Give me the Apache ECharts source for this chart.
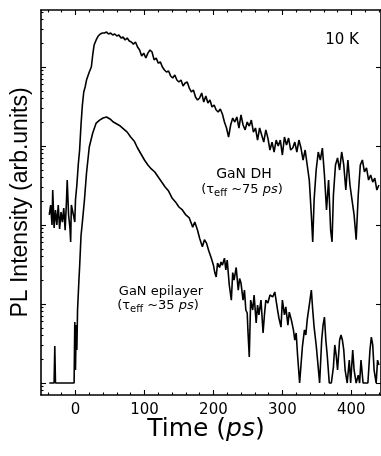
<!DOCTYPE html>
<html><head><meta charset="utf-8">
<script src="https://cdn.jsdelivr.net/npm/echarts@6/dist/echarts.min.js"></script>
<style>html,body{margin:0;padding:0;background:#fff}#c{width:381px;height:456px}</style>
</head><body><div id="c"></div>
<script>
// GaN DH (upper trace): time (ps) and PL intensity (arb. units)
const dhTime = [
  -38,-36,-34,-33,-31,-29,-27,-25,-23,-21,
  -19,-17,-15,-13,-12,-10,-8,-7,-6,-3,
  -1,0,2,4,6,8,10,12,14,16,
  18,20,23,25,27,30,33,36,39,42,
  45,48,51,54,57,60,63,66,69,72,
  75,78,81,84,87,90,93,96,99,102,
  105,108,111,114,117,120,123,126,129,132,
  135,138,141,144,147,150,153,156,159,162,
  165,168,171,174,177,180,183,186,189,192,
  195,198,201,204,207,210,213,216,219,222,
  225,228,231,234,237,240,243,246,249,252,
  255,258,261,264,267,270,273,276,279,282,
  285,288,291,294,297,300,303,306,309,312,
  315,318,321,324,327,330,333,336,339,342,
  344,346,349,352,355,358,361,364,367,370,
  372,374,377,380,383,386,389,392,395,398,
  401,404,407,410,413,416,419,422,425,428,
  431,434,437,440
];
const dhIntensity = [
  134,179,100,277,92,155,100,179,89,146,
  109,164,86,207,371,134,92,61,179,134,
  109,207,321,575,890,1845,3300,4830,5580,6840,
  7690,8650,10000,14200,19000,22000,24700,26200,26900,26900,
  27700,26200,26900,25400,26200,24700,25400,23300,24000,22000,
  23300,21300,20700,19500,20700,17900,16400,13800,15000,13000,
  15000,16400,15500,12300,13000,11200,11600,10000,9160,8650,
  8900,7690,7260,7920,6840,6460,6840,5750,6270,6460,
  5420,4830,5120,4170,3820,4050,4690,3610,4300,3500,
  3820,3120,3300,2860,2690,2940,2540,2010,1690,1300,
  1845,2260,2010,2330,1690,2470,1845,1600,2010,1790,
  2130,1500,1690,1190,1690,1380,1120,1600,1260,890,
  1120,840,1190,1000,1190,769,1300,1030,1260,890,
  943,1120,840,1190,943,665,890,575,371,134,
  61,207,497,840,665,943,430,155,371,86,
  61,240,575,705,497,840,575,277,665,321,
  207,134,65,240,575,665,469,527,371,430,
  350,393,277,321
];
// GaN epilayer (lower trace)
const epiTime = [
  -38,-31,-30,-29,-2,-1,0,1,2,3,
  5,6,8,10,13,16,20,25,30,35,
  40,45,50,55,60,65,70,75,80,85,
  90,95,100,105,110,115,120,125,130,135,
  140,145,150,155,160,165,170,173,177,180,
  184,187,190,193,197,200,202,204,206,209,
  211,213,216,218,220,223,226,228,230,233,
  236,238,240,243,245,247,249,250,252,254,
  257,259,262,264,266,269,272,274,276,279,
  282,284,286,289,291,293,295,298,300,303,
  305,308,310,313,316,318,320,322,325,327,
  329,332,334,336,339,342,344,346,349,351,
  354,357,359,361,363,365,368,371,374,376,
  378,380,383,385,387,389,391,394,397,399,
  402,404,407,410,412,414,417,421,424,427,
  429,431,433,436,438,440
];
const epiIntensity = [
  1,1,2.94,1,1,5.92,1.46,5.42,2.62,8.4,
  20.1,29.4,72.6,109,207,455,971,1462,1954,2130,
  2260,2330,2200,2010,1900,1790,1640,1500,1300,1160,
  943,792,665,575,512,469,405,350,303,269,
  220,196,169,155,134,123,94,109,86,68,
  53,65,59,48,38,31,25,22,33,29,
  34,31,38,27,36,17.4,11.2,25,20,29,
  15,21,18.4,11.2,15,8.4,7.7,4.7,2.13,11.2,
  8.4,13,5.75,9.7,7.3,11.2,4.3,7.3,11.2,10.3,
  13,12.3,12.3,14.2,15,8.4,6.65,5.1,11.2,7.3,
  9.2,5.4,7.9,6.3,4.7,3.5,4.3,2.26,1,1.69,
  2.86,4.7,4.05,6.3,9.7,15,8.4,5.1,3.03,1.95,
  1,3.5,5.4,6.84,3.5,2.26,1,1,1.59,3.03,
  2.26,1.46,3.5,4.05,3.5,2.62,1.46,1,1.95,1,
  2.62,1.46,1,1.26,1,1.95,1,1,1,2.62,
  3.82,3.03,1.46,1,1.95,1.69
];
const xTickLabels = [0, 100, 200, 300, 400];
const xMinorTicks = [-40,-20,20,40,60,80,120,140,160,180,220,240,260,280,320,340,360,380,420,440];
const yMajorTicks = [1, 10, 100, 1000, 10000];
const yMinorTicks = [0.8,0.9,
  2,3,4,5,6,7,8,9, 20,30,40,50,60,70,80,90,
  200,300,400,500,600,700,800,900, 2000,3000,4000,5000,6000,7000,8000,9000,
  20000,30000,40000,50000];

const FONT = 'DejaVu Sans';
const X_MIN = -50, X_MAX = 443, Y_MIN = 0.705, Y_MAX = 52680;
const blk = '#000';

function xAx(pos, ticks, len, withLine, withLabels) {
  return {
    type: 'value', position: pos, min: X_MIN, max: X_MAX,
    axisLine: { show: withLine, onZero: false, lineStyle: { color: blk, width: 1.6 } },
    axisTick: { show: true, inside: true, length: len, customValues: ticks, lineStyle: { color: blk, width: 1.1 } },
    axisLabel: withLabels ? { show: true, customValues: ticks, color: blk, fontFamily: FONT, fontSize: 15, margin: 8 } : { show: false },
    splitLine: { show: false }, minorTick: { show: false }
  };
}
function yAx(pos, ticks, len, withLine) {
  return {
    type: 'log', logBase: 10, position: pos, min: Y_MIN, max: Y_MAX,
    axisLine: { show: withLine, onZero: false, lineStyle: { color: blk, width: 1.6 } },
    axisTick: { show: true, inside: true, length: len, customValues: ticks, lineStyle: { color: blk, width: 1.1 } },
    axisLabel: { show: false },
    splitLine: { show: false }, minorTick: { show: false }
  };
}

const xMain = xAx('bottom', xTickLabels, 5, true, true);
xMain.name = '{n|Time (}{i|ps}{n|)}';
xMain.nameLocation = 'middle';
xMain.nameGap = 22;
xMain.nameMoveOverlap = false;
xMain.nameTextStyle = {
  padding: [0, 10, 0, 0],
  rich: {
    n: { fontFamily: FONT, fontSize: 25, color: blk },
    i: { fontFamily: FONT, fontSize: 25, color: blk, fontStyle: 'italic' }
  }
};
const yMain = yAx('left', yMajorTicks, 5, true);
yMain.name = 'PL Intensity (arb.units)';
yMain.nameLocation = 'middle';
yMain.nameGap = 9;
yMain.nameMoveOverlap = false;
yMain.nameTextStyle = { fontFamily: 'Liberation Sans', fontSize: 23, color: blk };

const chart = echarts.init(document.getElementById('c'), null, { renderer: 'canvas' });
const tauRich = {
  a: { fontFamily: FONT, fontSize: 13, color: blk, lineHeight: 16 },
  s: { fontFamily: FONT, fontSize: 10, color: blk, lineHeight: 16, verticalAlign: 'bottom' },
  i: { fontFamily: FONT, fontSize: 13, color: blk, lineHeight: 16, fontStyle: 'italic' }
};
chart.setOption({
  animation: false,
  backgroundColor: '#fff',
  grid: { left: 41, right: 0, top: 10, bottom: 61, containLabel: false, outerBoundsMode: 'none' },
  xAxis: [
    xMain,
    xAx('bottom', xMinorTicks, 2.5, false, false),
    xAx('top', xTickLabels, 5, true, false),
    xAx('top', xMinorTicks, 2.5, false, false)
  ],
  yAxis: [
    yMain,
    yAx('left', yMinorTicks, 2.5, false),
    yAx('right', yMajorTicks, 5, true)
  ],
  series: [
    {
      name: 'GaN DH', type: 'line', xAxisIndex: 0, yAxisIndex: 0,
      data: dhTime.map((t, i) => [t, dhIntensity[i]]),
      showSymbol: false, symbol: 'none', silent: true,
      lineStyle: { color: blk, width: 1.6 }
    },
    {
      name: 'GaN epilayer', type: 'line', xAxisIndex: 0, yAxisIndex: 0,
      data: epiTime.map((t, i) => [t, epiIntensity[i]]),
      showSymbol: false, symbol: 'none', silent: true,
      lineStyle: { color: blk, width: 1.6 }
    }
  ],
  graphic: [
    { type: 'text', x: 342, y: 40, style: { text: '10 K', fontFamily: FONT, fontSize: 15, fill: blk, align: 'center', verticalAlign: 'middle' } },
    { type: 'text', x: 244, y: 174, style: { text: 'GaN DH', fontFamily: FONT, fontSize: 14, fill: blk, align: 'center', verticalAlign: 'middle' } },
    { type: 'text', x: 242, y: 190, style: { text: '{a|(τ}{s|eff}{a| ~75 }{i|ps}{a|)}', rich: tauRich, align: 'center', verticalAlign: 'middle' } },
    { type: 'text', x: 161, y: 292, style: { text: 'GaN epilayer', fontFamily: FONT, fontSize: 13, fill: blk, align: 'center', verticalAlign: 'middle' } },
    { type: 'text', x: 158, y: 306, style: { text: '{a|(τ}{s|eff}{a| ~35 }{i|ps}{a|)}', rich: tauRich, align: 'center', verticalAlign: 'middle' } }
  ]
});
</script>
</body></html>
